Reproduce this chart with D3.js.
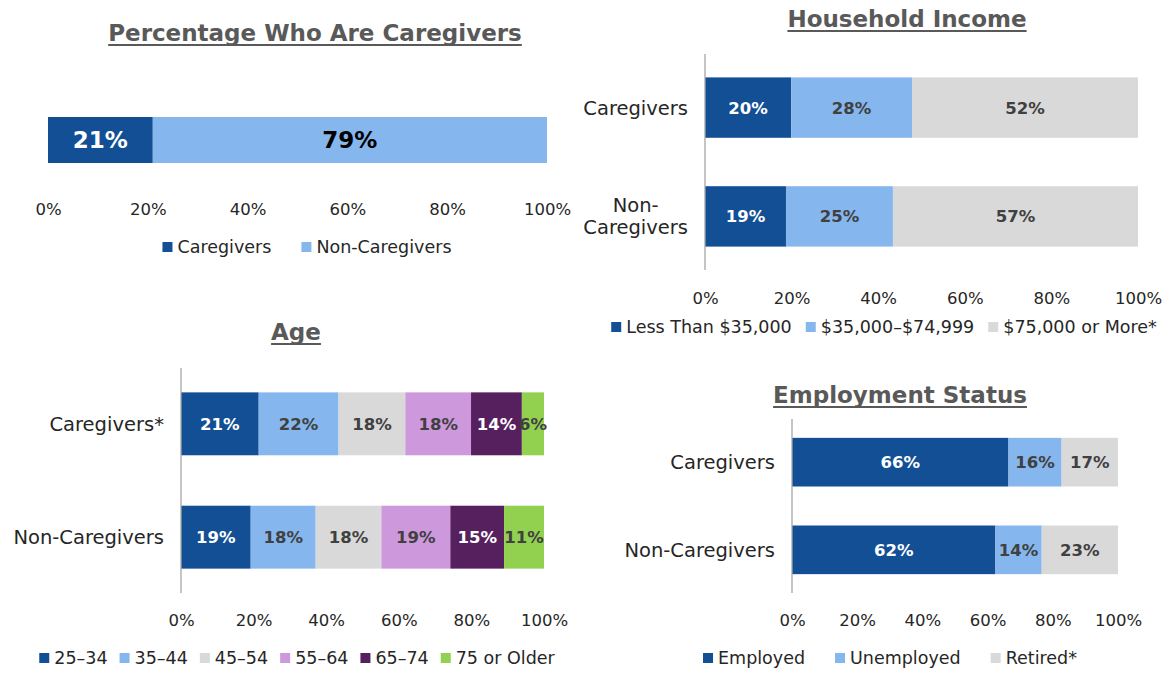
<!DOCTYPE html>
<html lang="en">
<head>
<meta charset="UTF-8">
<title>Caregiver Profile</title>
<script src="https://d3js.org/d3.v7.min.js"></script>
<style>
  body { margin: 0; background: #fff; font-family: "DejaVu Sans", sans-serif; }
  svg { display: block; }
  .title { font-size: 23px; font-weight: bold; fill: #595959; }
  .tick text { font-size: 16.5px; fill: #262626; font-family: "DejaVu Sans", sans-serif; }
  .row-label { font-size: 19.5px; fill: #262626; }
  .legend text { font-size: 17.5px; fill: #262626; }
  .bar-label { font-weight: bold; }
</style>
</head>
<body>
<svg width="1170" height="677"></svg>
<script>
// ---- data ----
const tickValues = [0, 20, 40, 60, 80, 100];

const shareRows = [""];
const shareSeries = ["Caregivers", "Non-Caregivers"];
const shareValues = [21, 79];

const incomeRows = ["Caregivers", "Non-\nCaregivers"];
const incomeSeries = ["Less Than $35,000", "$35,000–$74,999", "$75,000 or More*"];
const incomeCaregivers = [19.9, 27.9, 52.2];
const incomeNonCaregivers = [18.7, 24.7, 56.6];

const ageRows = ["Caregivers*", "Non-Caregivers"];
const ageSeries = ["25–34", "35–44", "45–54", "55–64", "65–74", "75 or Older"];
const ageCaregivers = [21.4, 22.0, 18.4, 18.1, 14.0, 6.1];
const ageNonCaregivers = [19.2, 17.9, 18.1, 19.0, 14.8, 11.0];

const jobRows = ["Caregivers", "Non-Caregivers"];
const jobSeries = ["Employed", "Unemployed", "Retired*"];
const jobCaregivers = [66.4, 16.3, 17.3];
const jobNonCaregivers = [62.4, 14.2, 23.4];

// colours
const darkBlue = "#124F94", lightBlue = "#85B6EE", grey = "#D9D9D9",
      lavender = "#CD99DC", purple = "#561F5E", green = "#92D050";
const dark = "#404040";

const svg = d3.select("svg");
const fmt = v => d3.format(".0f")(v) + "%";

function panel(cfg) {
  const g = svg.append("g");
  const x = d3.scaleLinear().domain([0, 100]).range([cfg.x0, cfg.x1]);
  const y = d3.scaleBand().domain(cfg.rows).range([cfg.y0, cfg.y1])
    .paddingInner(cfg.padIn).paddingOuter(cfg.padOut);

  const keys = cfg.series.map((s, i) => i);
  const layers = d3.stack().keys(keys)(cfg.values);

  // title with underline
  const t = g.append("text").attr("class", "title")
    .attr("x", cfg.titleX).attr("y", cfg.titleY)
    .attr("text-anchor", "middle").text(cfg.title);
  const tw = t.node().getComputedTextLength();
  g.append("line")
    .attr("x1", cfg.titleX - tw / 2).attr("x2", cfg.titleX + tw / 2)
    .attr("y1", cfg.titleY + 4).attr("y2", cfg.titleY + 4)
    .attr("stroke", "#595959").attr("stroke-width", 2);

  // bars
  layers.forEach((layer, si) => {
    g.append("g").selectAll("rect")
      .data(layer)
      .join("rect")
      .attr("x", d => x(d[0]))
      .attr("y", (d, ri) => y(cfg.rows[ri]))
      .attr("width", d => x(d[1]) - x(d[0]))
      .attr("height", y.bandwidth())
      .attr("fill", cfg.colors[si]);
  });

  // value labels
  layers.forEach((layer, si) => {
    g.append("g").selectAll("text")
      .data(layer)
      .join("text")
      .attr("class", "bar-label")
      .attr("x", d => (x(d[0]) + x(d[1])) / 2)
      .attr("y", (d, ri) => y(cfg.rows[ri]) + y.bandwidth() / 2)
      .attr("dy", "0.36em")
      .attr("text-anchor", "middle")
      .attr("font-size", cfg.labelSize)
      .attr("fill", cfg.labelColors[si])
      .text(d => fmt(d[1] - d[0]));
  });

  // vertical axis line
  if (cfg.axisLine) {
    g.append("line")
      .attr("x1", cfg.x0).attr("x2", cfg.x0)
      .attr("y1", cfg.y0).attr("y2", cfg.y1)
      .attr("stroke", "#A6A6A6").attr("stroke-width", 1.3);
  }

  // row labels
  cfg.rows.forEach(r => {
    if (!r) return;
    const lines = r.split("\n");
    const cy = y(r) + y.bandwidth() / 2;
    const lt = g.append("text").attr("class", "row-label").attr("text-anchor", "middle");
    lines.forEach((ln, i) => {
      lt.append("tspan").attr("x", 0)
        .attr("y", cy + (i - (lines.length - 1) / 2) * 22)
        .attr("dy", "0.36em").text(ln);
    });
    const w = lt.node().getBBox().width;
    lt.attr("transform", `translate(${cfg.x0 - 17 - w / 2},0)`);
  });

  // x axis tick labels
  const ax = g.append("g")
    .attr("transform", `translate(0,${cfg.tickY})`)
    .call(d3.axisBottom(x).tickValues(tickValues).tickFormat(d => d + "%").tickSize(0).tickPadding(0));
  ax.select(".domain").remove();
  ax.selectAll("text").attr("dy", "0.36em").attr("y", 0);

  // legend
  const lg = g.append("g").attr("class", "legend");
  let cx = 0;
  cfg.series.forEach((s, i) => {
    const it = lg.append("g").attr("transform", `translate(${cx},0)`);
    it.append("rect").attr("x", 0).attr("y", -5).attr("width", 10).attr("height", 10)
      .attr("fill", cfg.colors[i]);
    const tx = it.append("text").attr("x", 15).attr("y", 0).attr("dy", "0.36em").text(s);
    cx += 15 + tx.node().getComputedTextLength() + cfg.legendGap;
  });
  const total = cx - cfg.legendGap;
  lg.attr("transform", `translate(${cfg.legendX - total / 2},${cfg.legendY})`);
}

panel({
  title: "Percentage Who Are Caregivers", titleX: 315, titleY: 41,
  rows: shareRows, series: shareSeries, values: [shareValues],
  colors: [darkBlue, lightBlue], labelColors: ["#fff", "#000"], labelSize: 23,
  x0: 48, x1: 547, y0: 117, y1: 163, padIn: 0, padOut: 0, axisLine: false,
  tickY: 209, legendX: 307, legendY: 247, legendGap: 30
});

panel({
  title: "Household Income", titleX: 907, titleY: 27,
  rows: incomeRows, series: incomeSeries, values: [incomeCaregivers, incomeNonCaregivers],
  colors: [darkBlue, lightBlue, grey], labelColors: ["#fff", dark, dark], labelSize: 16.5,
  x0: 705, x1: 1138, y0: 54, y1: 270, padIn: 0.445, padOut: 0.215, axisLine: true,
  tickY: 298, legendX: 884, legendY: 327, legendGap: 14
});

panel({
  title: "Age", titleX: 296, titleY: 340,
  rows: ageRows, series: ageSeries, values: [ageCaregivers, ageNonCaregivers],
  colors: [darkBlue, lightBlue, grey, lavender, purple, green],
  labelColors: ["#fff", dark, dark, dark, "#fff", dark], labelSize: 16.5,
  x0: 181, x1: 544, y0: 368, y1: 593, padIn: 0.445, padOut: 0.215, axisLine: true,
  tickY: 620, legendX: 297, legendY: 658, legendGap: 12
});

panel({
  title: "Employment Status", titleX: 900, titleY: 403,
  rows: jobRows, series: jobSeries, values: [jobCaregivers, jobNonCaregivers],
  colors: [darkBlue, lightBlue, grey], labelColors: ["#fff", dark, dark], labelSize: 16.5,
  x0: 792, x1: 1118, y0: 419, y1: 593, padIn: 0.445, padOut: 0.215, axisLine: true,
  tickY: 620, legendX: 890, legendY: 658, legendGap: 30
});
</script>
</body>
</html>
